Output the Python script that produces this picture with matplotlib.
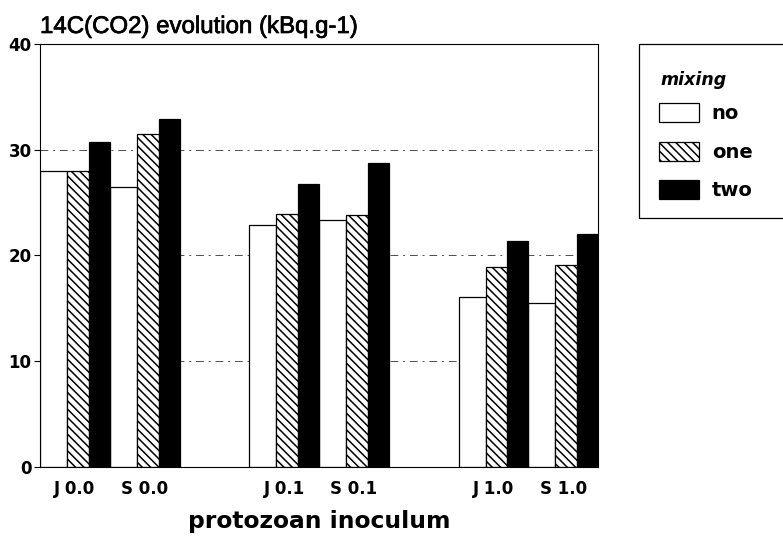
import matplotlib
matplotlib.use("Agg")
import matplotlib.pyplot as plt
import matplotlib.patheffects as pe
from matplotlib.patches import Rectangle

# 14C-CO2 evolution per treatment, three mixing levels
categories = ["J 0.0", "S 0.0", "J 0.1", "S 0.1", "J 1.0", "S 1.0"]
mix_no = [28.0, 26.5, 22.9, 23.4, 16.1, 15.5]
mix_one = [28.0, 31.5, 23.9, 23.8, 18.9, 19.1]
mix_two = [30.7, 32.9, 26.8, 28.7, 21.4, 22.0]
yticks = [0, 10, 20, 30, 40]

plt.rcParams['font.family'] = ['Liberation Sans', 'DejaVu Sans']
plt.rcParams['hatch.linewidth'] = 1.1

BOLD = {'family': 'DejaVu Sans', 'weight': 'bold'}

fig = plt.figure(figsize=(7.83, 5.37), dpi=100)
ax = fig.add_axes([40 / 783, 70 / 537, 558 / 783, 423 / 537])

# each inoculum level takes two slots, followed by an empty slot
slots = [0, 1, 3, 4, 6, 7]
w_no, w_one, w_two = 0.39, 0.31, 0.30

b_no = ax.bar([s for s in slots], mix_no, width=w_no, align='edge',
              color='white', edgecolor='black', linewidth=0.9, label='no')
b_one = ax.bar([s + w_no for s in slots], mix_one, width=w_one, align='edge',
               color='white', edgecolor='black', hatch='\\\\\\\\',
               linewidth=0.9, label='one')
b_two = ax.bar([s + w_no + w_one for s in slots], mix_two, width=w_two,
               align='edge', color='black', edgecolor='black', linewidth=0.9,
               label='two')

ax.set_xlim(0, 8)
ax.set_ylim(0, 40)
ax.set_yticks(yticks)
ax.set_yticklabels([str(t) for t in yticks], fontdict=dict(BOLD, size=12))
ax.set_xticks([s + 0.5 for s in slots])
ax.set_xticklabels(categories, fontdict=dict(BOLD, size=12))
ax.tick_params(axis='x', length=0, pad=9)
ax.tick_params(axis='y', length=4, width=0.8, pad=2)

ax.set_axisbelow(True)
ax.yaxis.grid(True, color='0.3', linewidth=0.7, linestyle=(0, (8, 5, 2, 5)))
for sp in ax.spines.values():
    sp.set_linewidth(0.8)

ax.set_xlabel("protozoan inoculum", fontdict=dict(BOLD, size=16.8),
              labelpad=9)

title = fig.text(40 / 783, 1 - 33 / 537, "14C(CO2) evolution (kBq.g-1)",
                 fontsize=17.3, va='baseline', ha='left')
title.set_path_effects([pe.withStroke(linewidth=0.5, foreground='black')])

# legend: open-ended box on the right, title drawn separately
fig.patches.append(Rectangle((639 / 783, 1 - 218 / 537), 160 / 783, 174 / 537,
                             transform=fig.transFigure, fill=False,
                             edgecolor='black', linewidth=0.9))
fig.text(660 / 783, 1 - 85 / 537, "mixing", fontdict=dict(BOLD, size=12.5),
         style='italic', va='baseline', ha='left')
fig.legend(handles=[b_no, b_one, b_two], loc='upper left',
           bbox_to_anchor=(659 / 783, 1 - 103 / 537), frameon=False,
           prop=dict(BOLD, size=14),
           handlelength=2.06, handleheight=1.13, labelspacing=0.95,
           handletextpad=0.65, borderpad=0, borderaxespad=0)

fig.savefig("out.png", dpi=100)
